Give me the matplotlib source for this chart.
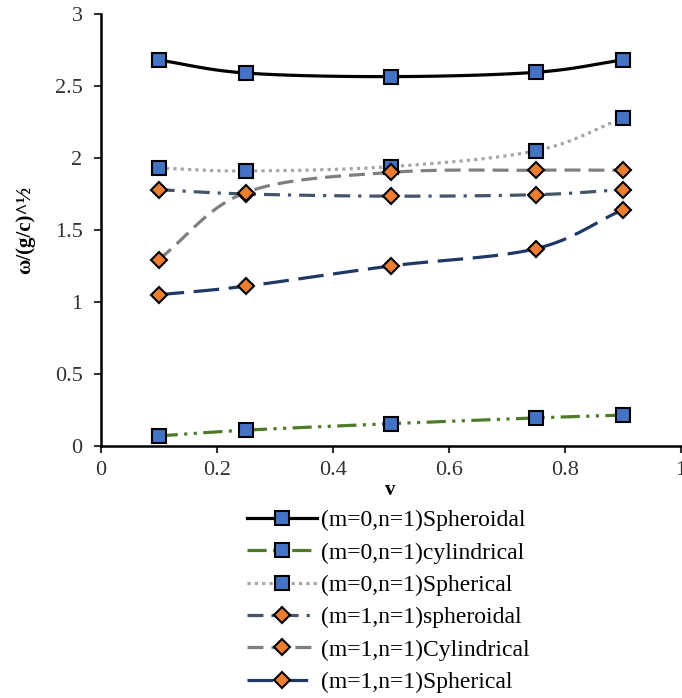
import numpy as np
import matplotlib
matplotlib.use("Agg")
import matplotlib.pyplot as plt
from matplotlib.lines import Line2D

plt.rcParams['font.family'] = ['Liberation Serif', 'DejaVu Serif']

v = [0.1, 0.25, 0.5, 0.75, 0.9]
sph0 = [2.68, 2.59, 2.565, 2.595, 2.68]
cyl0 = [0.07, 0.11, 0.155, 0.195, 0.215]
spher0 = [1.93, 1.91, 1.94, 2.05, 2.275]
sph1 = [1.78, 1.75, 1.735, 1.745, 1.78]
cyl1 = [1.295, 1.76, 1.90, 1.915, 1.915]
spher1 = [1.05, 1.11, 1.25, 1.37, 1.64]

labels = ["(m=0,n=1)Spheroidal", "(m=0,n=1)cylindrical", "(m=0,n=1)Spherical",
          "(m=1,n=1)spheroidal", "(m=1,n=1)Cylindrical", "(m=1,n=1)Spherical"]
xtick_vals = [0, 0.2, 0.4, 0.6, 0.8, 1]
xtick_labels = ['0', '0.2', '0.4', '0.6', '0.8', '1']
ytick_vals = [0, 0.5, 1, 1.5, 2, 2.5, 3]
ytick_labels = ['0', '0.5', '1', '1.5', '2', '2.5', '3']


def smooth(x, y, n=30):
    # Catmull-Rom curve through the data points (Excel-like smoothed line)
    x = np.asarray(x, float); y = np.asarray(y, float)
    P = np.column_stack([x, y])
    P = np.vstack([P[0] - (P[1] - P[0]), P, P[-1] + (P[-1] - P[-2])])
    out = []
    for i in range(1, len(P) - 2):
        p0, p1, p2, p3 = P[i - 1], P[i], P[i + 1], P[i + 2]
        t = np.linspace(0, 1, n)[:, None]
        c = 0.5 * ((2 * p1) + (-p0 + p2) * t + (2 * p0 - 5 * p1 + 4 * p2 - p3) * t ** 2
                   + (-p0 + 3 * p1 - 3 * p2 + p3) * t ** 3)
        out.append(c if i == 1 else c[1:])
    c = np.vstack(out)
    return c[:, 0], c[:, 1]


fig = plt.figure(figsize=(6.82, 6.98), dpi=100)
ax = fig.add_axes([0.1476, 0.361, 0.8504, 0.619])

blue = '#4472C4'
orange = '#ED7D31'
series = [
    (sph0, 'black', '-', 's', blue, 10.5),
    (cyl0, '#4F7A28', (0, (6, 2, 1, 2, 1, 2)), 's', blue, 10.5),
    (spher0, '#A6A6A6', (0, (1, 1.3)), 's', blue, 10.5),
    (sph1, '#44546A', (0, (5, 2.5, 1, 2.5)), 'D', orange, 8),
    (cyl1, '#7F7F7F', (0, (5, 2.5)), 'D', orange, 8),
    (spher1, '#203864', (0, (8, 3)), 'D', orange, 8),
]
handles = []
for (y, col, ls, mk, fc, ms), lab in zip(series, labels):
    sx, sy = smooth(v, y)
    ax.plot(sx, sy, color=col, lw=2.3, ls=ls, zorder=2)
    ax.plot(v, y, ls='none', marker=mk, ms=ms, mfc=fc, mec='black', mew=1.5, zorder=3)
    handles.append(Line2D([], [], color=col, lw=2.3, ls=ls, marker=mk, ms=ms,
                          mfc=fc, mec='black', mew=1.5))

ax.set_xlim(0, 1)
ax.set_ylim(0, 3)
ax.set_xticks(xtick_vals)
ax.set_xticklabels(xtick_labels)
ax.set_yticks(ytick_vals)
ax.set_yticklabels(ytick_labels)
for s in ['top', 'right']:
    ax.spines[s].set_visible(False)
for s in ['left', 'bottom']:
    ax.spines[s].set_linewidth(1.8)
ax.tick_params(axis='both', labelsize=16, width=1.5, length=5, color='#333333',
               labelcolor='#333333')
ax.tick_params(axis='x', pad=6)
ax.tick_params(axis='y', pad=8)
ax.set_xlabel('v', fontsize=15, fontweight='bold', labelpad=0)
ax.set_ylabel('ω/(g/c)^½', fontsize=15, fontweight='bold', labelpad=14)

fig.legend(handles=handles, labels=labels, loc='upper left', bbox_to_anchor=(0.362, 0.2695),
           frameon=False, fontsize=17, handlelength=2.95, handletextpad=0.2,
           labelspacing=0.455, borderaxespad=0, borderpad=0)

fig.savefig('out.png', dpi=100)
